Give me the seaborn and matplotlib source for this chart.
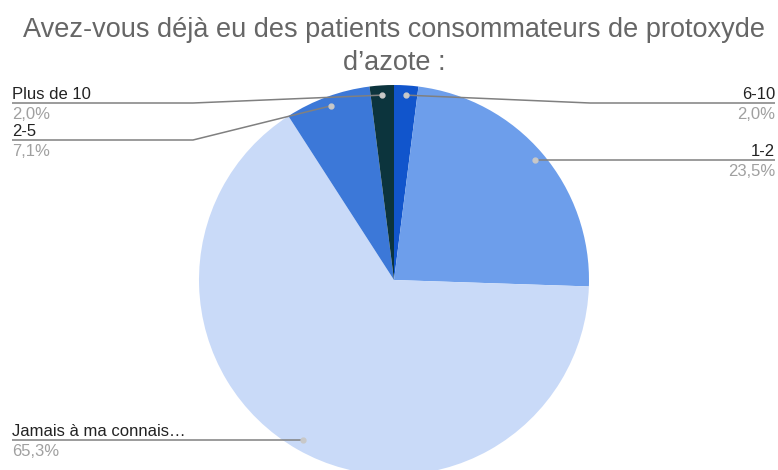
import numpy as np
import matplotlib
matplotlib.use("Agg")
import matplotlib.pyplot as plt
import seaborn as sns

# ---- données ----
categories = ["6-10", "1-2", "Jamais à ma connais…", "2-5", "Plus de 10"]
percent = [2.0, 23.5, 65.3, 7.1, 2.0]
colors = ["#1155cc", "#6d9eeb", "#c9daf8", "#3c78d8", "#0c343d"]
title_lines = ["Avez-vous déjà eu des patients consommateurs de protoxyde",
               "d’azote :"]

sns.set_theme(style="white")
plt.rcParams["font.family"] = ["Liberation Sans", "DejaVu Sans"]

W, H = 778, 470
CX, CY, R = 394, 280, 195


def px(x, y):
    # pixel (depuis le coin haut-gauche) -> coordonnées données
    return (x - CX) / R, (CY - y) / R


fig = plt.figure(figsize=(W / 100, H / 100), dpi=100)
ax = fig.add_axes([0, 0, 1, 1])

wedges, _ = ax.pie(percent, colors=colors, startangle=90, counterclock=False,
                   radius=1, center=(0, 0), frame=True,
                   wedgeprops=dict(linewidth=0))
ax.set_xlim(-CX / R, (W - CX) / R)
ax.set_ylim(-(H - CY) / R, CY / R)
ax.set_aspect("auto")
ax.axis("off")

# (côté, y de la ligne en px, x du coude en px ou None)
layout = {
    "6-10": ("right", 103, 590),
    "1-2": ("right", 160, None),
    "Jamais à ma connais…": ("left", 440, None),
    "2-5": ("left", 140, 193),
    "Plus de 10": ("left", 103, 193),
}

line_col = "#808080"
for w, cat, pct in zip(wedges, categories, percent):
    mid = np.deg2rad((w.theta1 + w.theta2) / 2)
    dx, dy = 0.95 * np.cos(mid), 0.95 * np.sin(mid)
    side, ly, elbow = layout[cat]
    _, ly_d = px(0, ly)
    end_x = px(775 if side == "right" else 12, 0)[0]
    xs = [dx]
    ys = [dy]
    if elbow is not None:
        xs.append(px(elbow, 0)[0])
        ys.append(ly_d)
    else:
        ys[0] = ly_d
    xs.append(end_x)
    ys.append(ly_d)
    ax.plot(xs, ys, color=line_col, lw=1.1, zorder=3, solid_capstyle="butt")
    ax.plot([xs[0]], [ys[0]], "o", ms=3.5, color="#c8c8c8", zorder=4)

    ha = "right" if side == "right" else "left"
    ax.text(end_x, px(0, ly - 4)[1], cat, ha=ha, va="baseline", fontsize=12,
            color="#222222", zorder=5)
    ax.text(end_x, px(0, ly + 16)[1], f"{pct:.1f}%".replace(".", ","), ha=ha,
            va="baseline", fontsize=12, color="#a0a0a0", zorder=5)

for line, yb in zip(title_lines, [37, 70]):
    fig.text(CX / W, 1 - yb / H, line, ha="center", va="baseline",
             fontsize=19.5, color="#666666")

fig.savefig("out.png", dpi=100)
plt.close(fig)
